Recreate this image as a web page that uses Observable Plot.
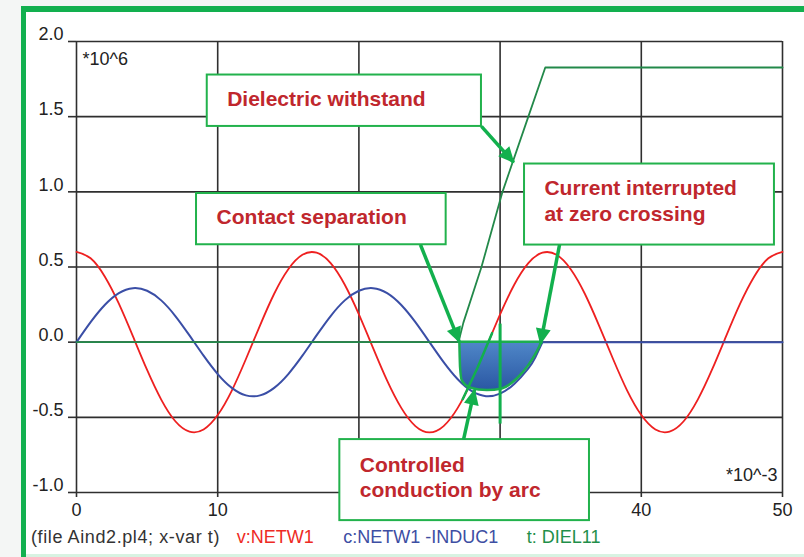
<!DOCTYPE html>
<html><head><meta charset="utf-8">
<script src="https://cdn.jsdelivr.net/npm/d3@7"></script>
<script src="https://cdn.jsdelivr.net/npm/@observablehq/plot@0.6"></script>
<style>
body{margin:0;background:#f4f6f5;}
#wrap{position:relative;width:804px;height:557px;background:#fff;overflow:hidden;font-family:"Liberation Sans",Arial,sans-serif;}
#legend{position:relative;height:32px;}
#legend span{position:absolute;top:3px;font-size:18px;line-height:18px;white-space:pre;}
.bar{position:absolute;}
</style></head><body>
<div id="wrap">
<div id="chart"></div>
<div id="legend"></div>
<div class="bar" style="left:0;top:0;width:21px;height:557px;background:#f4f6f5"></div>
<div class="bar" style="left:0;top:0;width:804px;height:6px;background:#f4f6f5"></div>
<div class="bar" style="left:21px;top:6px;width:5px;height:551px;background:#12b04f"></div>
<div class="bar" style="left:21px;top:6px;width:783px;height:6px;background:#12b04f"></div>
<div class="bar" style="left:26px;top:554px;width:778px;height:3px;background:#d8f3e2"></div>
</div>
<script>
// ---- data (time in ms, values in units of 10^6) ----
const tMs = [0,1,2,3,4,5,6,7,8,9,10,11,12,13,14,15,16,17,18,19,20,21,22,23,24,25,26,27,28,29,30,31,32,33,34,35,36,37,38,39,40,41,42,43,44,45,46,47,48,49,50];
const vNetw1 = [0.600,0.558,0.437,0.256,0.038,-0.185,-0.382,-0.526,-0.595,-0.581,-0.485,-0.322,-0.112,0.112,0.322,0.485,0.581,0.595,0.526,0.382,0.185,-0.038,-0.256,-0.437,-0.558,-0.600,-0.558,-0.437,-0.256,-0.038,0.185,0.382,0.526,0.595,0.581,0.485,0.322,0.112,-0.112,-0.322,-0.485,-0.581,-0.595,-0.526,-0.382,-0.185,0.038,0.256,0.437,0.558,0.600];

const cT = [0,1,2,3,4,5,6,7,8,9,10,11,12,13,14,15,16,17,18,19,20,21,22,23,24,25,26,27,28,29,30,31,32,32.5,33,40,50];
const cNetw1 = [0,0.133,0.247,0.326,0.359,0.342,0.278,0.174,0.045,-0.090,-0.212,-0.304,-0.354,-0.354,-0.304,-0.212,-0.090,0.045,0.174,0.278,0.342,0.359,0.326,0.247,0.133,0,-0.133,-0.247,-0.326,-0.359,-0.342,-0.278,-0.174,-0.100,0,0,0];
const interruptT = 33;

const dielT = [0,27.05,27.4,28.68,30.17,32.0,33.2,50];
const dielV = [0,0,0.13,0.5,1.0,1.5,1.827,1.827];

const arcT = [27.15,27.2,27.32,27.9,29.09,30.15,31.21,32.03,32.86,32.95];
const arcV = [0,-0.17,-0.256,-0.305,-0.322,-0.311,-0.245,-0.156,-0.02,0];

const arcVoltT = [27.35,28.4,29.43];
const arcVoltV = [-0.38,-0.17,0.06];

const cursorT = 30, cursorTop = 0.12, cursorBottom = -0.545;

const xTicks = [0,10,20,30,40,50];
const yTicks = [-1.0,-0.5,0.0,0.5,1.0,1.5,2.0];

const calloutText = ["Dielectric withstand","Contact separation","Current interrupted\nat zero crossing","Controlled\nconduction by arc"];
const boxX1 = [9.26,8.50,31.73,18.65];
const boxX2 = [28.68,26.18,49.43,36.33];
const boxY1 = [1.777,0.989,1.185,-0.648];
const boxY2 = [1.435,0.648,0.646,-1.187];
const labelX = [10.67,9.92,33.14,20.06];
const labelY = [1.624,0.840,0.947,-0.891];
const arrowX1 = [28.68,24.36,34.21,27.41];
const arrowY1 = [1.435,0.648,0.648,-0.648];
const arrowX2 = [30.97,27.12,32.86,28.19];
const arrowY2 = [1.195,0.0,-0.01,-0.316];

const legendText = ["(file Aind2.pl4; x-var t)","v:NETW1","c:NETW1 -INDUC1","t: DIEL11"];
const legendColor = ["#333333","#ee2a24","#3d4ea3","#1f8f4a"];

// ---- tables ----
const red = tMs.map((t,i)=>({t, v:vNetw1[i]}));
const blue = cT.map((t,i)=>({t, v:cNetw1[i]}));
const blueOn = blue.filter(d => d.t <= interruptT);
const blueOff = blue.filter(d => d.t >= interruptT);
const diel = dielT.map((t,i)=>({t, v:dielV[i]}));
const arc = arcT.map((t,i)=>({t, v:arcV[i]}));
const arcVolt = arcVoltT.map((t,i)=>({t, v:arcVoltV[i]}));
const callouts = calloutText.map((label,i)=>({label, bx1:boxX1[i], bx2:boxX2[i], by1:boxY1[i], by2:boxY2[i], lx:labelX[i], ly:labelY[i], ax1:arrowX1[i], ay1:arrowY1[i], ax2:arrowX2[i], ay2:arrowY2[i]}));

const GRID = "#2f2f2f", GREEN = "#12b04d", BLUE = "#3a4ea6";
const chart = Plot.plot({
  width: 804, height: 525,
  marginLeft: 76, marginRight: 22, marginTop: 41, marginBottom: 33,
  x: {domain: [0,50]},
  y: {domain: [-1,2]},
  style: {fontFamily: "'Liberation Sans', Arial, sans-serif", background: "white", overflow: "visible"},
  marks: [
    Plot.gridY(yTicks, {stroke: GRID, strokeOpacity: 1, strokeWidth: 1.6}),
    Plot.gridX(xTicks, {stroke: GRID, strokeOpacity: 1, strokeWidth: 1.6}),
    Plot.axisY(yTicks, {tickSize: 8, stroke: GRID, strokeWidth: 1.6, tickFormat: () => "", label: null}),
    Plot.axisY(yTicks, {tickSize: 0, tickPadding: 13, dy: -7, fontSize: 18, fill: "#222", tickFormat: d => d.toFixed(1), label: null}),
    Plot.axisX(xTicks, {tickSize: 5, tickPadding: 6, fontSize: 18, fill: "#222", stroke: GRID, strokeWidth: 1.6, tickFormat: d => String(d), label: null}),
    Plot.text(["*10^6"], {text: d => d, frameAnchor: "top-left", textAnchor: "start", lineAnchor: "middle", dx: 6, dy: 18, fontSize: 18, fill: "#222"}),
    Plot.text(["*10^-3"], {text: d => d, frameAnchor: "bottom-right", textAnchor: "end", lineAnchor: "middle", dx: -5, dy: -17.5, fontSize: 18, fill: "#222"}),
    Plot.line(red, {x: "t", y: "v", stroke: "#ee2020", strokeWidth: 1.8, curve: "natural"}),
    Plot.line(blueOn, {x: "t", y: "v", stroke: BLUE, strokeWidth: 2, curve: "natural"}),
    Plot.line(blueOff, {x: "t", y: "v", stroke: BLUE, strokeWidth: 2}),
    Plot.line(diel, {x: "t", y: "v", stroke: "#23894a", strokeWidth: 1.8}),
    Plot.areaY(arc, {x: "t", y1: 0, y2: "v", fill: "url(#arcGrad)", stroke: "#1cae4f", strokeWidth: 2.5, curve: "monotone-x"}),
    Plot.line(arcVolt, {x: "t", y: "v", stroke: GREEN, strokeWidth: 2.5}),
    Plot.ruleX([cursorT], {y1: cursorTop, y2: cursorBottom, stroke: GREEN, strokeWidth: 3}),
    Plot.rect(callouts, {x1: "bx1", x2: "bx2", y1: "by1", y2: "by2", fill: "white", stroke: "#22b24c", strokeWidth: 2}),
    Plot.text(callouts, {x: "lx", y: "ly", text: "label", textAnchor: "start", lineAnchor: "middle", lineHeight: 1.22, fontSize: 21, fontWeight: "bold", fill: "#c0272d"}),
    Plot.link(callouts, {x1: "ax1", y1: "ay1", x2: "ax2", y2: "ay2", stroke: GREEN, strokeWidth: 3.5})
  ]
});

const svg = d3.select(chart);
const defs = svg.insert("defs", ":first-child");
const grad = defs.append("linearGradient").attr("id", "arcGrad").attr("x1", 0).attr("y1", 0).attr("x2", 0).attr("y2", 1);
grad.append("stop").attr("offset", "0%").attr("stop-color", "#4f87c8");
grad.append("stop").attr("offset", "100%").attr("stop-color", "#2a57a3");
const mk = defs.append("marker").attr("id", "calloutHead").attr("viewBox", "-17 -9 19 18")
  .attr("markerWidth", 19).attr("markerHeight", 18).attr("markerUnits", "userSpaceOnUse")
  .attr("orient", "auto").attr("refX", 0).attr("refY", 0);
mk.append("path").attr("d", "M1,0L-15,-7.5L-15,7.5Z").attr("fill", GREEN);
svg.selectAll('g[aria-label="link"] path').attr("marker-end", "url(#calloutHead)");

document.getElementById("chart").appendChild(chart);

const legendLeft = [31, 236.7, 343.3, 526.7];
const legend = d3.select("#legend");
legendText.forEach((s, i) => {
  legend.append("span").text(s).style("left", legendLeft[i] + "px").style("color", legendColor[i])
    .style("letter-spacing", i === 0 ? "0.6px" : "0px");
});
</script>
</body></html>
